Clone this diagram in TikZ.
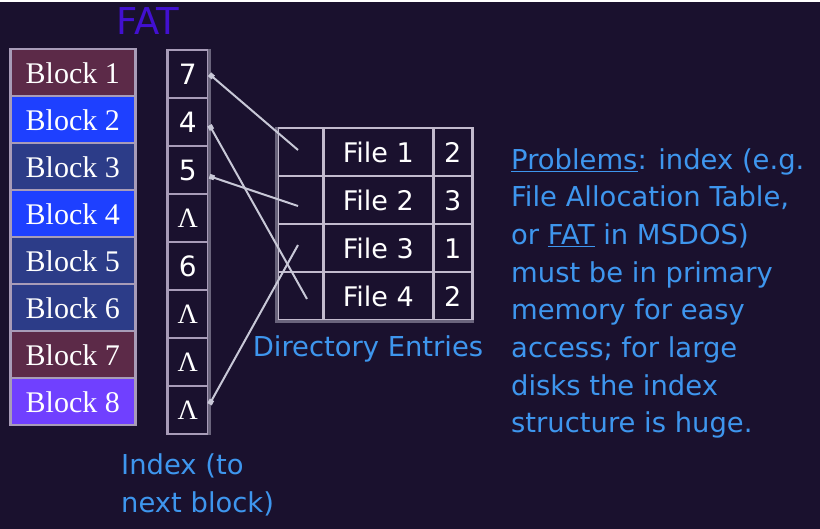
\documentclass[tikz,border=0pt]{standalone}
\usepackage{fontspec}
\setmainfont{Liberation Serif}
\setsansfont{DejaVu Sans}
\newfontfamily\handfont{DejaVu Sans}
\usetikzlibrary{arrows.meta}
\definecolor{bgnavy}{RGB}{26,17,46}
\definecolor{blockred}{RGB}{92,42,72}
\definecolor{blockblue}{RGB}{30,64,255}
\definecolor{blockdark}{RGB}{44,60,136}
\definecolor{blockviolet}{RGB}{112,64,255}
\definecolor{framegray}{RGB}{168,156,184}
\definecolor{linkgray}{RGB}{200,200,215}
\definecolor{notblue}{RGB}{62,150,238}
\definecolor{fatpurple}{RGB}{66,16,208}
\definecolor{edgegray}{RGB}{106,100,124}
\newcommand{\fatnil}{{\rmfamily Λ}}
\tikzset{
	block/.style={draw=framegray,line width=2.5pt,minimum width=125pt,minimum height=47pt,inner sep=0pt,anchor=north west,text=white,font=\fontsize{30}{30}\selectfont},
	fatcell/.style={draw=framegray,line width=2.5pt,minimum width=41pt,minimum height=48pt,inner sep=0pt,anchor=north west,text=white,font=\sffamily\fontsize{28}{28}\selectfont},
	entry/.style={draw=framegray!70!white,line width=2.5pt,minimum height=48pt,inner sep=0pt,anchor=north west,text=white,font=\sffamily\fontsize{27}{27}\selectfont},
	note/.style={text=notblue,font=\sffamily\fontsize{27.4}{37.7}\selectfont,inner sep=0pt},
	link/.style={draw=linkgray,line width=2pt,-{Square[length=5pt,width=5pt]}}
}
\begin{document}
\begin{tikzpicture}[x=1pt,y=-1pt]
		\fill[bgnavy] (0,0) rectangle (820,529);
		\fill[white] (0,0) rectangle (820,2);
		\useasboundingbox (0,0) rectangle (820,529);
		\node[text=fatpurple,font=\handfont\fontsize{37}{37}\selectfont,anchor=base west,inner sep=0pt] (fatlabel) at (116,35) {FAT};
		\node[block,fill=blockred] (block1) at (9,48) {Block 1};
		\node[block,fill=blockblue] (block2) at (9,95) {Block 2};
		\node[block,fill=blockdark] (block3) at (9,142) {Block 3};
		\node[block,fill=blockblue] (block4) at (9,189) {Block 4};
		\node[block,fill=blockdark] (block5) at (9,236) {Block 5};
		\node[block,fill=blockdark] (block6) at (9,283) {Block 6};
		\node[block,fill=blockred] (block7) at (9,330) {Block 7};
		\node[block,fill=blockviolet] (block8) at (9,377) {Block 8};
		\node[fatcell] (fat1) at (166,49) {7};
		\node[fatcell] (fat2) at (166,97) {4};
		\node[fatcell] (fat3) at (166,145) {5};
		\node[fatcell] (fat4) at (166,193) {\fatnil};
		\node[fatcell] (fat5) at (166,241) {6};
		\node[fatcell] (fat6) at (166,289) {\fatnil};
		\node[fatcell] (fat7) at (166,337) {\fatnil};
		\node[fatcell] (fat8) at (166,385) {\fatnil};
		\draw[edgegray,line width=3.5pt] (fat1.north east) -- (fat8.south east);
		\node[entry,minimum width=46pt] (ptr1) at (276,127) {};
		\node[entry,minimum width=110pt] (name1) at (322,127) {File 1};
		\node[entry,minimum width=39pt] (start1) at (432,127) {2};
		\node[entry,minimum width=46pt] (ptr2) at (276,175) {};
		\node[entry,minimum width=110pt] (name2) at (322,175) {File 2};
		\node[entry,minimum width=39pt] (start2) at (432,175) {3};
		\node[entry,minimum width=46pt] (ptr3) at (276,223) {};
		\node[entry,minimum width=110pt] (name3) at (322,223) {File 3};
		\node[entry,minimum width=39pt] (start3) at (432,223) {1};
		\node[entry,minimum width=46pt] (ptr4) at (276,271) {};
		\node[entry,minimum width=110pt] (name4) at (322,271) {File 4};
		\node[entry,minimum width=39pt] (start4) at (432,271) {2};
		\draw[edgegray,line width=3pt] (ptr1.north west) -- (ptr4.south west) -- (start4.south east);
		\coordinate (p1) at (298,150);
		\coordinate (p2) at (298,206);
		\coordinate (p3) at (298,245);
		\coordinate (p4) at (307,299);
		\draw[link] (p1) -- (fat1.east);
		\draw[link] (p2) -- ([yshift=-6pt]fat3.east);
		\draw[link] (p4) -- ([yshift=-3pt]fat2.east);
		\draw[link] (p3) -- ([yshift=6pt]fat8.east);
		\node[note,anchor=base] (dirlabel) at (368,357) {Directory Entries};
		\node[note,anchor=base west,align=left] (indexlabel) at (121,512) {Index (to\\next block)};
		\node[note,anchor=base west,align=left] (problems) at (511,433) {\underline{Problems}: index (e.g.\\File Allocation Table,\\or \underline{FAT} in MSDOS)\\must be in primary\\memory for easy\\access; for large\\disks the index\\structure is huge.};
	\end{tikzpicture}
\end{document}
